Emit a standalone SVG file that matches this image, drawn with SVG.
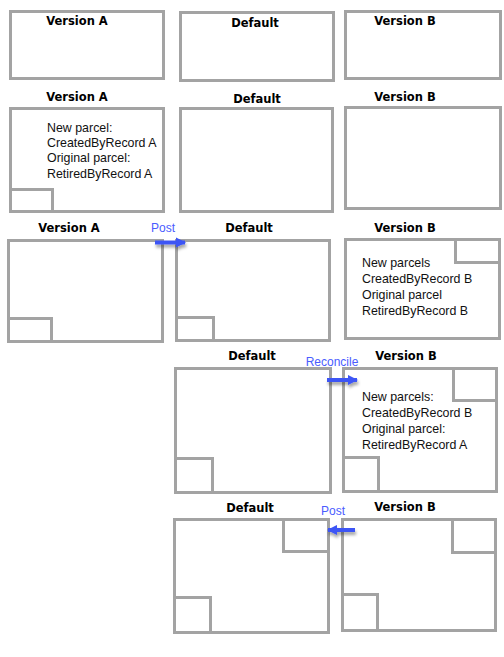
<svg xmlns="http://www.w3.org/2000/svg" width="504" height="657" viewBox="0 0 504 657">
<defs>
<style>
.box{fill:#ffffff;stroke:#a3a3a3;stroke-width:3}
.sub{fill:none;stroke:#a3a3a3;stroke-width:3}
.lbl{font-family:"DejaVu Sans","Liberation Sans",sans-serif;font-weight:bold;font-size:11.5px;fill:#000;text-anchor:middle}
.txt{font-family:"Liberation Sans",Arial,sans-serif;font-size:12.4px;fill:#111}
.act{font-family:"Liberation Sans",Arial,sans-serif;font-size:12px;fill:#4a5cff;text-anchor:middle}
.arr{stroke:#3c55f5;stroke-width:4;fill:none;marker-end:url(#ah);filter:url(#sh)}
</style>
<marker id="ah" viewBox="0 0 10 10" refX="9" refY="5" markerWidth="2.6" markerHeight="2.6" orient="auto" markerUnits="strokeWidth">
<path d="M0,0 L10,5 L0,10 Z" fill="#3c55f5"/>
</marker>
<filter id="sh" filterUnits="userSpaceOnUse" x="0" y="0" width="504" height="657">
<feDropShadow dx="1" dy="3" stdDeviation="1.5" flood-color="#000" flood-opacity="0.35"/>
</filter>
</defs>

<g id="r1-versionA">
<rect class="box" x="10.5" y="11.5" width="153" height="67"/>
<text class="lbl" x="77" y="25">Version A</text>
</g>
<g id="r1-default">
<rect class="box" x="180.5" y="12.5" width="153" height="68"/>
<text class="lbl" x="255" y="27">Default</text>
</g>
<g id="r1-versionB">
<rect class="box" x="345.5" y="11.5" width="155" height="67"/>
<text class="lbl" x="405" y="25">Version B</text>
</g>

<g id="r2-versionA">
<rect class="box" x="10.5" y="108.5" width="153" height="103"/>
<polyline class="sub" points="10.5,189.5 52.5,189.5 52.5,211.5"/>
<text class="lbl" x="77" y="101">Version A</text>
<text class="txt" x="47" y="132">New parcel:</text>
<text class="txt" x="47" y="147">CreatedByRecord A</text>
<text class="txt" x="47" y="162">Original parcel:</text>
<text class="txt" x="47" y="178">RetiredByRecord A</text>
</g>
<g id="r2-default">
<rect class="box" x="180.5" y="108.5" width="152" height="103"/>
<text class="lbl" x="257" y="103">Default</text>
</g>
<g id="r2-versionB">
<rect class="box" x="345.5" y="107.5" width="155" height="101"/>
<text class="lbl" x="405" y="101">Version B</text>
</g>

<g id="r3-versionA">
<rect class="box" x="8.5" y="240.5" width="154" height="101"/>
<polyline class="sub" points="8.5,318.5 51.5,318.5 51.5,341.5"/>
<text class="lbl" x="69" y="232">Version A</text>
</g>
<g id="r3-default">
<rect class="box" x="176.5" y="240.5" width="153" height="100"/>
<polyline class="sub" points="176.5,317.5 213.5,317.5 213.5,340.5"/>
<text class="lbl" x="249" y="232">Default</text>
</g>
<g id="r3-versionB">
<rect class="box" x="345.5" y="239.5" width="154" height="99"/>
<polyline class="sub" points="455.5,239.5 455.5,262.5 499.5,262.5"/>
<text class="lbl" x="405" y="232">Version B</text>
<text class="txt" x="362" y="267">New parcels</text>
<text class="txt" x="362" y="283">CreatedByRecord B</text>
<text class="txt" x="362" y="299">Original parcel</text>
<text class="txt" x="362" y="315">RetiredByRecord B</text>
</g>

<g id="r4-default">
<rect class="box" x="175.5" y="368.5" width="155" height="124"/>
<polyline class="sub" points="175.5,458.5 212.5,458.5 212.5,492.5"/>
<text class="lbl" x="252" y="360">Default</text>
</g>
<g id="r4-versionB">
<rect class="box" x="343.5" y="368.5" width="153" height="123"/>
<polyline class="sub" points="453.5,368.5 453.5,400.5 496.5,400.5"/>
<polyline class="sub" points="343.5,457.5 378.5,457.5 378.5,491.5"/>
<text class="lbl" x="406" y="360">Version B</text>
<text class="txt" x="362" y="401">New parcels:</text>
<text class="txt" x="362" y="417">CreatedByRecord B</text>
<text class="txt" x="362" y="433">Original parcel:</text>
<text class="txt" x="362" y="449">RetiredByRecord A</text>
</g>

<g id="r5-default">
<rect class="box" x="174.5" y="519.5" width="154" height="113"/>
<polyline class="sub" points="283.5,519.5 283.5,551.5 328.5,551.5"/>
<polyline class="sub" points="174.5,597.5 210.5,597.5 210.5,632.5"/>
<text class="lbl" x="250" y="512">Default</text>
</g>
<g id="r5-versionB">
<rect class="box" x="342.5" y="519.5" width="153" height="111"/>
<polyline class="sub" points="452.5,519.5 452.5,552.5 495.5,552.5"/>
<polyline class="sub" points="342.5,594.5 377.5,594.5 377.5,630.5"/>
<text class="lbl" x="405" y="511">Version B</text>
</g>

<g id="connectors">
<line class="arr" x1="155" y1="242.5" x2="185" y2="242.5"/>
<text class="act" x="163" y="232">Post</text>
<line class="arr" x1="327" y1="380" x2="357" y2="380"/>
<text class="act" x="332" y="366">Reconcile</text>
<line class="arr" x1="355" y1="530" x2="328" y2="530"/>
<text class="act" x="333" y="515">Post</text>
</g>
</svg>
